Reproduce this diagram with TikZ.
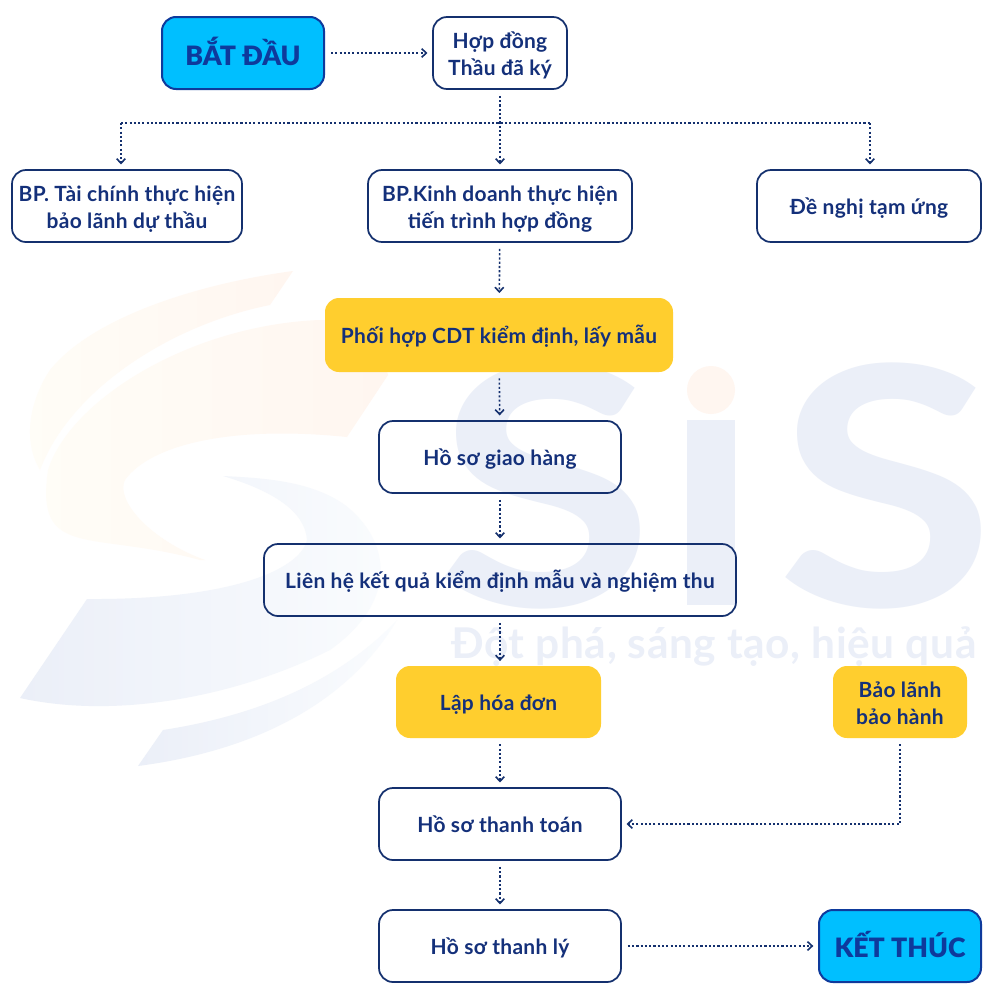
\documentclass[tikz,border=0pt]{standalone}
\usepackage{fontspec}
\setmainfont{Lato}[LetterSpace=1.5]
\newfontfamily\heavyfont{Lato Black}
\usetikzlibrary{arrows.meta}
\definecolor{ink}{HTML}{14307A}
\definecolor{edge}{HTML}{14306E}
\definecolor{gold}{HTML}{FFCE2E}
\definecolor{sky}{HTML}{00BFFF}
\definecolor{heavyink}{HTML}{0E3A9C}
\definecolor{wmblue}{HTML}{EBEFF8}
\definecolor{wmbluefade}{HTML}{FAFCFE}
\definecolor{wmorange}{HTML}{FFF6F0}
\definecolor{wmorangefade}{HTML}{FFFDF7}
\tikzset{
  x=0.75pt,y=-0.75pt,
  base/.style={rounded corners=10.5pt,align=center,inner sep=0pt,text=ink,font=\fontsize{15.7}{20.25}\selectfont\bfseries},
  plain/.style={base,draw=edge,line width=1.3pt},
  yellowbox/.style={base,fill=gold,text=ink},
  bluebox/.style={base,draw=heavyink,line width=1.5pt,fill=sky,text=heavyink,font=\fontsize{20}{23}\selectfont\heavyfont},
  flow/.style={draw=edge,line width=1.2pt,dash pattern=on 1.6pt off 1.6pt,-{Straight Barb[length=3.5pt,width=6.5pt,line width=1.2pt]}},
  flowline/.style={draw=edge,line width=1.2pt,dash pattern=on 1.6pt off 1.6pt},
  wmletter/.style={text=wmblue,inner sep=0pt,xscale=1.2,font=\fontsize{250}{250}\selectfont\bfseries},
  wmtag/.style={text=wmblue,inner sep=0pt,font=\fontsize{31.8}{34}\selectfont\bfseries},
  gap/.style={shorten <=4.5pt,shorten >=3.5pt},
}
\newcommand{\boxnode}[7]{\node[#1,minimum width=#5*0.75pt-#3*0.75pt,minimum height=#6*0.75pt-#4*0.75pt] (#2) at ({(#3+#5)/2},{(#4+#6)/2}) {\rule{0pt}{16pt}#7\rule[-3pt]{0pt}{3pt}};}
\begin{document}
\begin{tikzpicture}
\useasboundingbox (0,0) rectangle (1000,1000);
\fill[white] (0,0) rectangle (1000,1000);
% watermark swooshes
\shade[left color=wmorangefade,right color=wmorange] (293,271) -- (270,305) .. controls (170,325) and (70,390) .. (40,470) .. controls (22,440) and (30,400) .. (50,370) .. controls (90,320) and (190,285) .. (293,271) -- cycle;
\shade[left color=wmorangefade,right color=wmorange] (388,375) .. controls (380,340) and (360,320) .. (320,320) .. controls (190,325) and (70,400) .. (48,470) .. controls (35,560) and (90,530) .. (200,560) -- (205,560) .. controls (150,540) and (115,500) .. (125,480) .. controls (150,445) and (230,425) .. (347,437) -- cycle;
\shade[left color=wmblue,right color=wmbluefade] (87,599) -- (20,698) .. controls (120,720) and (240,695) .. (330,650) .. controls (400,600) and (390,540) .. (345,505) .. controls (310,480) and (260,478) .. (223,476) .. controls (270,490) and (305,510) .. (307,540) .. controls (300,570) and (230,600) .. (87,599) -- cycle;
\shade[left color=wmblue,right color=wmbluefade] (163,730) -- (138,766) .. controls (260,750) and (350,700) .. (397,620) .. controls (340,680) and (260,715) .. (163,730) -- cycle;
\node[wmletter] (s1) at (545,486) {S};
\fill[wmblue] (687,420) rectangle (735,605);
\fill[wmorange] (711,390) circle[radius=18pt];
\node[wmletter] (s2) at (886,486) {S};
\node[wmtag,anchor=west] (tag) at (451,647) {Đột phá, sáng tạo, hiệu quả};
% boxes
\boxnode{bluebox}{start}{162}{17}{324}{89}{BẮT ĐẦU}
\boxnode{plain}{hop}{433}{17}{567}{89}{Hợp đồng\\Thầu đã ký}
\boxnode{plain}{tc}{12}{170}{242}{242}{BP. Tài chính thực hiện\\bảo lãnh dự thầu}
\boxnode{plain}{kd}{368}{170}{632}{242}{BP.Kinh doanh thực hiện\\tiến trình hợp đồng}
\boxnode{plain}{tu}{757}{170}{981}{242}{Đề nghị tạm ứng}
\boxnode{yellowbox}{ph}{325}{298}{673}{372}{Phối hợp CDT kiểm định, lấy mẫu}
\boxnode{plain}{gh}{379}{421}{621}{493}{Hồ sơ giao hàng}
\boxnode{plain}{lh}{264}{544}{736}{616}{Liên hệ kết quả kiểm định mẫu và nghiệm thu}
\boxnode{yellowbox}{hd}{396}{666}{601}{738}{Lập hóa đơn}
\boxnode{yellowbox}{bh}{833}{666}{967}{738}{Bảo lãnh\\bảo hành}
\boxnode{plain}{tt}{379}{788}{621}{860}{Hồ sơ thanh toán}
\boxnode{plain}{tl}{379}{910}{621}{982}{Hồ sơ thanh lý}
\boxnode{bluebox}{end}{819}{910}{981}{982}{KẾT THÚC}
% connectors
\coordinate (bl) at (121,123);
\coordinate (br) at (870,123);
\draw[flow,gap] (start) -- (hop);
\draw[flow,gap] (hop) -- (kd);
\draw[flowline] (bl) -- (br);
\draw[flow,shorten >=3.5pt] (bl) -- (bl |- tc.north);
\draw[flow,shorten >=3.5pt] (br) -- (br |- tu.north);
\draw[flow,gap] (kd) -- (ph);
\draw[flow,gap] (ph) -- (gh);
\draw[flow,gap] (gh) -- (lh);
\draw[flow,gap] (lh) -- (hd.north -| lh.south);
\draw[flow,gap] (hd.south -| gh.south) -- (tt);
\draw[flow,gap] (tt) -- (tl);
\draw[flow,gap] (bh) |- (tt);
\draw[flow,gap] (tl) -- (end);
\end{tikzpicture}
\end{document}
